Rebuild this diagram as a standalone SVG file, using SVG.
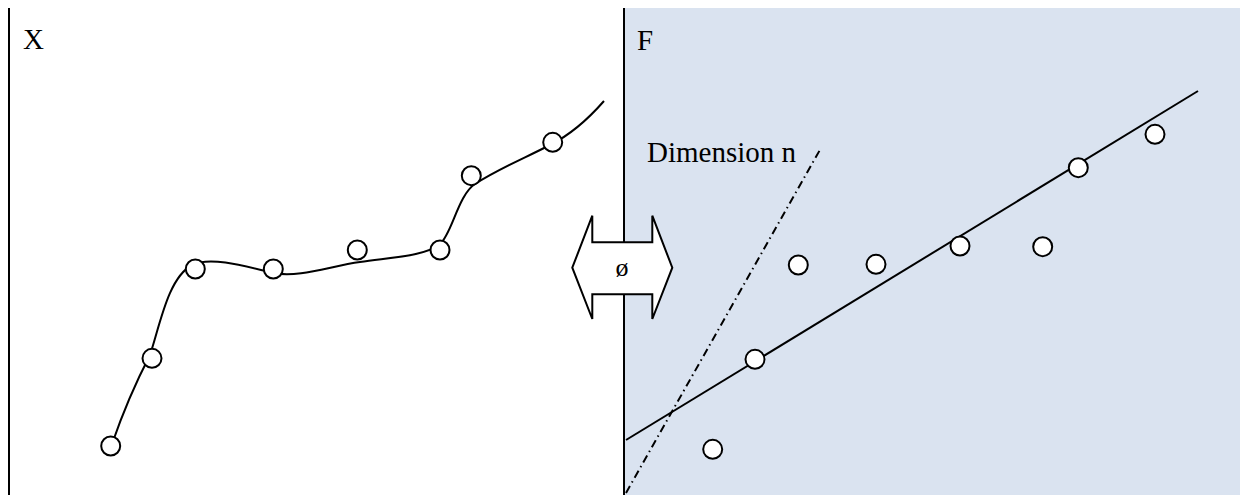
<svg xmlns="http://www.w3.org/2000/svg" width="1240" height="495" viewBox="0 0 1240 495">
<style>
.lbl{font-size:29px;fill:#000}
.pt{fill:#fff;stroke:#000;stroke-width:2}
.ln{fill:none;stroke:#000;stroke-width:2}
</style>
<rect x="0" y="0" width="1240" height="495" fill="#fff"/>
<g id="panel-F">
<rect x="624" y="8" width="616" height="487" fill="#dae3f0"/>
</g>
<g id="connectors">
<line class="ln" x1="9" y1="8" x2="9" y2="495" stroke-width="2.5"/>
<line class="ln" x1="624" y1="8" x2="624" y2="495" stroke-width="2.5"/>
<path class="ln" d="M112 444 C122 415,136 382,150 355 C160 325,168 278,192 265 C210 256,245 266,273 273 C300 278,330 266,360 262 C395 257,425 256,440 244 C452 234,458 195,475 184 C500 168,525 158,550 145 C570 135,590 117,604 101"/>
<line class="ln" x1="626" y1="440" x2="1198" y2="91"/>
<line class="ln" x1="626" y1="493" x2="821" y2="148" stroke-width="1.6" stroke-dasharray="8 4 1.5 4"/>
</g>
<g id="arrow-phi">
<polygon points="572.3,267.7 592.3,215.7 592.3,242.3 652.3,242.3 652.3,215.7 672.3,267.7 652.3,319 652.3,294.3 592.3,294.3 592.3,319" fill="#fff" stroke="#000" stroke-width="2" stroke-linejoin="miter"/>
<text x="622" y="276" text-anchor="middle" font-family="Liberation Serif, Times New Roman, serif" font-size="26">ø</text>
</g>
<g id="label-X"><text class="lbl" font-family="Liberation Serif, Times New Roman, serif" x="23" y="49">X</text></g>
<g id="label-F"><text class="lbl" font-family="Liberation Serif, Times New Roman, serif" x="637" y="50">F</text></g>
<g id="label-dim"><text class="lbl" font-family="Liberation Serif, Times New Roman, serif" x="647" y="162">Dimension n</text></g>
<g id="points-X">
<circle class="pt" cx="110.7" cy="446" r="9.5"/>
<circle class="pt" cx="152" cy="358.3" r="9.5"/>
<circle class="pt" cx="195.3" cy="269" r="9.5"/>
<circle class="pt" cx="273.3" cy="269" r="9.5"/>
<circle class="pt" cx="357.3" cy="250" r="9.5"/>
<circle class="pt" cx="440" cy="250" r="9.5"/>
<circle class="pt" cx="471.3" cy="175.7" r="9.5"/>
<circle class="pt" cx="552.7" cy="142.3" r="9.5"/>
</g>
<g id="points-F">
<circle class="pt" cx="712.7" cy="449.3" r="9.5"/>
<circle class="pt" cx="755" cy="359.3" r="9.5"/>
<circle class="pt" cx="798.3" cy="265" r="9.5"/>
<circle class="pt" cx="876" cy="264.3" r="9.5"/>
<circle class="pt" cx="960" cy="246" r="9.5"/>
<circle class="pt" cx="1042.7" cy="246.7" r="9.5"/>
<circle class="pt" cx="1078.3" cy="167.7" r="9.5"/>
<circle class="pt" cx="1155" cy="134.3" r="9.5"/>
</g>
</svg>
